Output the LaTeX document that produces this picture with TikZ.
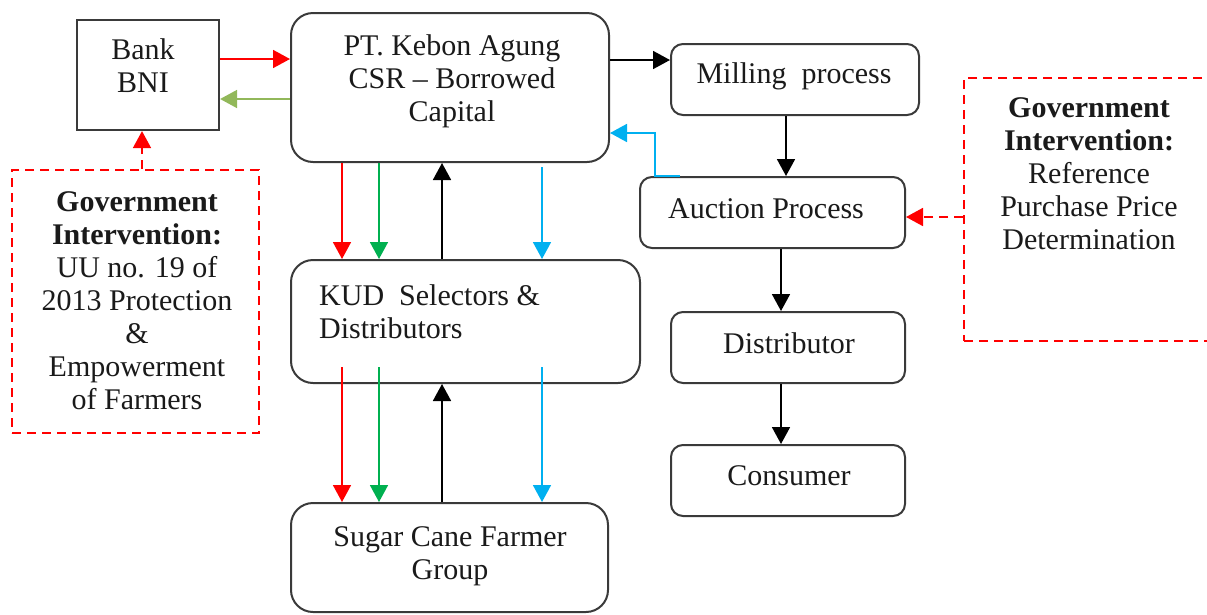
\documentclass[tikz,border=0pt]{standalone}
\usepackage{fontspec}
\setmainfont{Liberation Serif}
\usetikzlibrary{arrows.meta,calc}
\definecolor{boxline}{HTML}{3A3A3A}
\definecolor{txtcol}{HTML}{1A1A1A}
\definecolor{ared}{HTML}{FF0000}
\definecolor{agreen}{HTML}{00B050}
\definecolor{ablue}{HTML}{00B0F0}
\definecolor{aolive}{HTML}{92B85A}
\begin{document}
\begin{tikzpicture}[x=1pt,y=-1pt,
  font=\fontsize{30}{33}\selectfont,
  rbox/.style={draw=boxline,line width=2pt,rounded corners=#1,inner sep=0pt,fill=white},
  rbox/.default=12pt,
  sbox/.style={draw=boxline,line width=2.2pt,inner sep=0pt,fill=white},
  dbox/.style={draw=ared,line width=1.8pt,dash pattern=on 9pt off 6pt,inner sep=0pt},
  txt/.style={inner sep=0pt,text=txtcol,align=center},
  arr/.style={line width=1.8pt,-{Triangle[length=17pt,width=18pt]}},
  darr/.style={arr,draw=ared,dash pattern=on 9pt off 6pt}
]
\useasboundingbox (0,0) rectangle (1207,614);
% boxes
\node[sbox,minimum width=142pt,minimum height=110pt] (bank) at (148,75) {};
\node[txt] at (143,66) {Bank\\BNI};
\node[rbox=22pt,minimum width=318pt,minimum height=149pt] (pt) at (450,87.5) {};
\node[txt] at (452,81.5) {PT. Kebon Agung\\CSR -- Borrowed\\Capital};
\node[rbox,minimum width=248pt,minimum height=71pt] (mill) at (795,79.5) {};
\node[txt] at (794,76) {Milling\ \ process};
\node[rbox,minimum width=265pt,minimum height=71pt] (auc) at (772.5,212.5) {};
\node[txt] at (766,209) {Auction Process};
\node[rbox,minimum width=234pt,minimum height=71pt] (dist) at (788,347.5) {};
\node[txt] at (789,343) {Distributor};
\node[rbox,minimum width=234pt,minimum height=71pt] (cons) at (788,480.5) {};
\node[txt] at (789,476) {Consumer};
\node[rbox=22pt,minimum width=349pt,minimum height=123pt] (kud) at (465.5,321.5) {};
\node[txt,anchor=west,align=left] at (319,312) {KUD\ \ Selectors \&\\Distributors};
\node[rbox=22pt,minimum width=317pt,minimum height=109pt] (farm) at (449.5,557.5) {};
\node[txt] at (450,556) {Sugar Cane Farmer\\Group};
\node[dbox,minimum width=247pt,minimum height=263pt] (gl) at (135.5,301.5) {};
\node[txt] at (137,301) {\textbf{Government}\\\textbf{Intervention:}\\UU no. 19 of\\2013 Protection\\\&\\Empowerment\\of Farmers};
\node[dbox,minimum width=250pt,minimum height=263pt] (gr) at (1089,209.5) {};
\node[txt] at (1089,173.5) {\textbf{Government}\\\textbf{Intervention:}\\Reference\\Purchase Price\\Determination};
% connectors
\draw[arr,draw=ared] (bank.east |- 0,59) -- (pt.west |- 0,59);
\draw[arr,draw=aolive] (pt.west |- 0,99) -- (bank.east |- 0,99);
\draw[darr] (gl.north -| 142,0) -- (bank.south -| 142,0);
\draw[arr,draw=black] (pt.east |- 0,60) -- (mill.west |- 0,60);
\draw[arr,draw=black] (mill.south -| 786,0) -- (auc.north -| 786,0);
\draw[arr,draw=ablue] (auc.north -| 680,0) -- (auc.north -| 655,0) |- (pt.east |- 0,133);
\draw[darr] (gr.west |- 0,217) -- (auc.east |- 0,217);
\draw[arr,draw=black] (auc.south -| 781,0) -- (dist.north -| 781,0);
\draw[arr,draw=black] (dist.south -| 781,0) -- (cons.north -| 781,0);
% PT -> KUD
\draw[arr,draw=ared] (pt.south -| 342,0) -- (kud.north -| 342,0);
\draw[arr,draw=agreen] (pt.south -| 379,0) -- (kud.north -| 379,0);
\draw[arr,draw=ablue] ($(pt.south -| 542,0)+(0,4)$) -- (kud.north -| 542,0);
\draw[arr,draw=black] (kud.north -| 442,0) -- (pt.south -| 442,0);
% KUD -> farmers
\draw[arr,draw=ared] ($(kud.south -| 342,0)+(0,-17)$) -- (farm.north -| 342,0);
\draw[arr,draw=agreen] ($(kud.south -| 379,0)+(0,-17)$) -- (farm.north -| 379,0);
\draw[arr,draw=ablue] ($(kud.south -| 542,0)+(0,-17)$) -- (farm.north -| 542,0);
\draw[arr,draw=black] (farm.north -| 442,0) -- (kud.south -| 442,0);
\end{tikzpicture}
\end{document}
